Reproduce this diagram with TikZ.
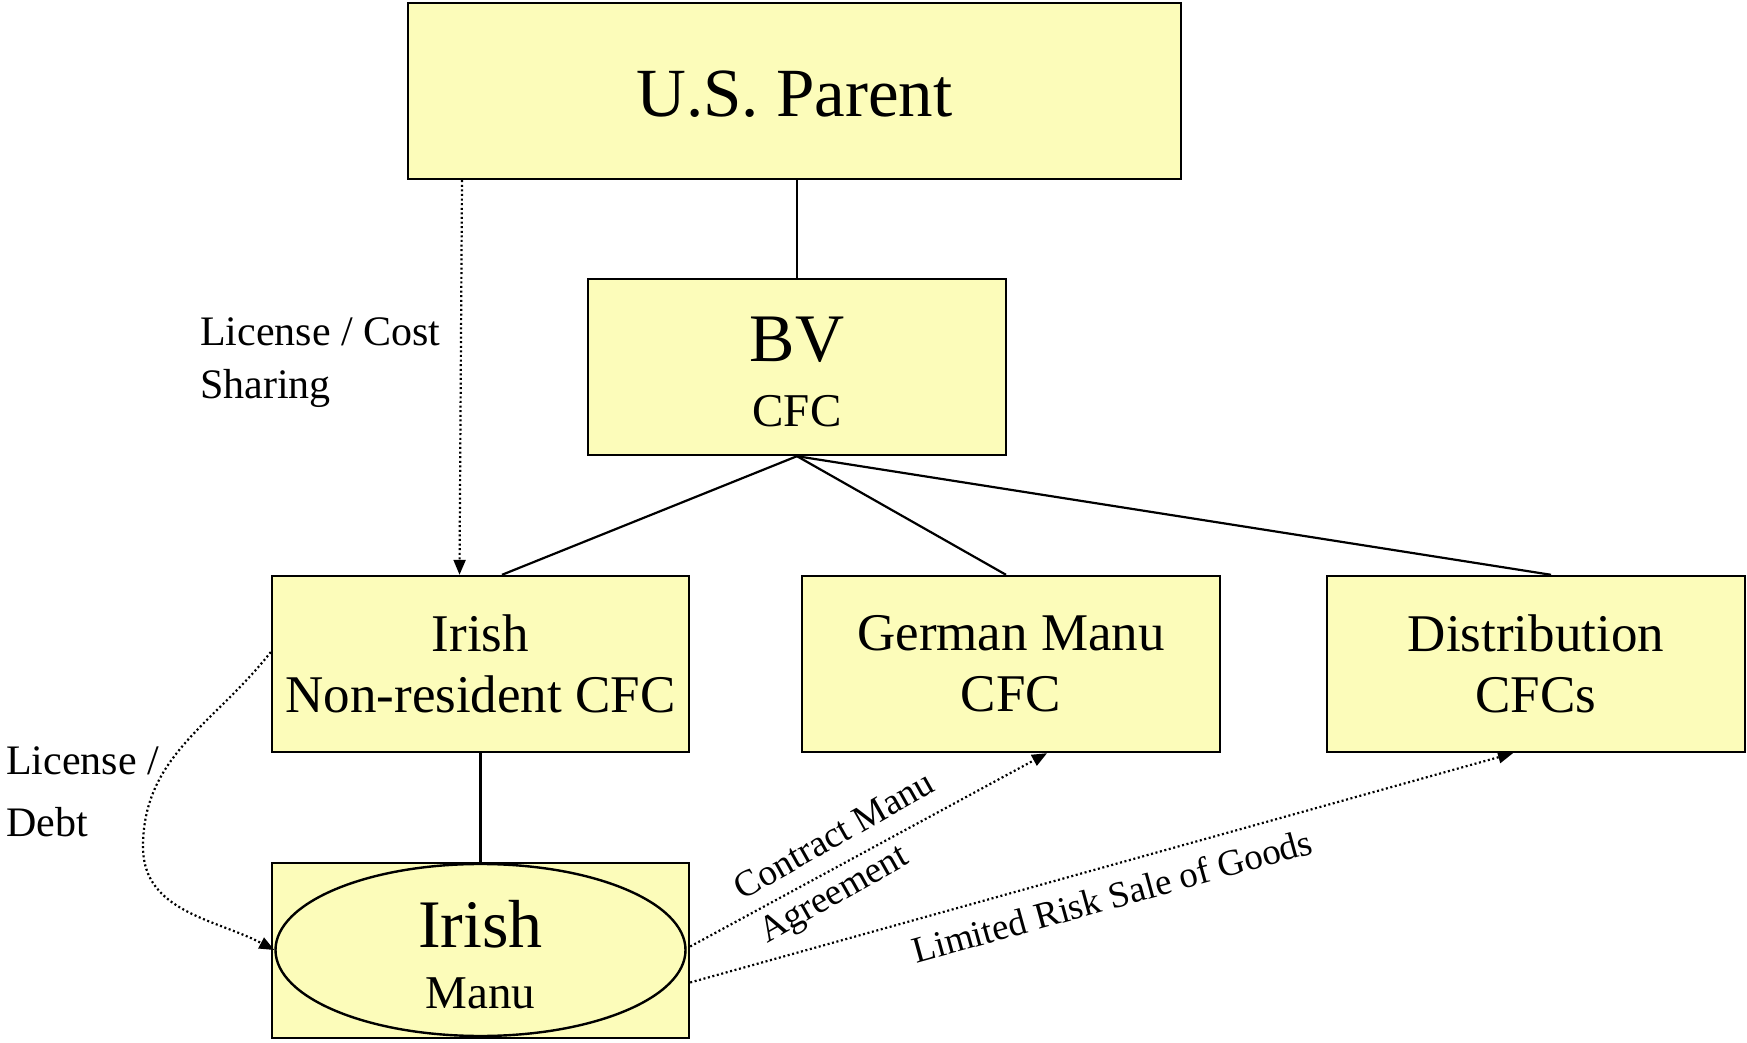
\documentclass[tikz,border=0pt]{standalone}
\usepackage{fontspec}
\setmainfont{Liberation Serif}
\usetikzlibrary{arrows.meta,shapes.geometric}
\definecolor{cfcyellow}{RGB}{252,252,186}

\begin{document}
\begin{tikzpicture}[x=1pt, y=1pt,
    entity/.style={draw, line width=2.4pt, fill=cfcyellow, align=center, inner sep=0pt},
    link/.style={line width=2.2pt},
    flow/.style={line width=2.2pt, dash pattern=on 2pt off 2.6pt, -{Triangle[length=15pt, width=12pt]}},
    note/.style={inner sep=0pt, align=left}]
    \useasboundingbox (0,0) rectangle (1747,1042);

    \node[entity, minimum width=773pt, minimum height=176pt, font=\fontsize{69}{80}\selectfont] (US) at (794.5,951) {\rule{0pt}{52pt}U.S. Parent};
    \node[entity, minimum width=418pt, minimum height=176pt, font=\fontsize{47}{65}\selectfont] (BV) at (797,675) {{\fontsize{68}{65}\selectfont\rule{0pt}{54pt}BV}\\CFC};

    \node[entity, minimum width=417pt, minimum height=176pt, font=\fontsize{53}{61}\selectfont] (IrishNR) at (480.5,378) {Irish\\Non-resident CFC};
    \node[entity, minimum width=418pt, minimum height=176pt, font=\fontsize{53}{61}\selectfont] (German) at (1011,378) {German Manu\\CFC};
    \node[entity, minimum width=418pt, minimum height=176pt, font=\fontsize{53}{61}\selectfont] (Dist) at (1536,378) {Distribution\\CFCs};

    \node[entity, minimum width=417pt, minimum height=175pt] (ManuBox) at (480.5,91.5) {};
    \node[entity, ellipse, minimum width=410pt, minimum height=172pt, font=\fontsize{47}{61}\selectfont] (Manu) at (480.5,92) {{\fontsize{68}{61}\selectfont\rule{0pt}{56pt}Irish}\\Manu};

    % ownership
    \draw[link] (BV.north) -- (BV.north |- US.south);
    \draw[link] (BV.south) -- ([xshift=21.5pt]IrishNR.north);
    \draw[link] (BV.south) -- ([xshift=-5pt]German.north);
    \draw[link] (BV.south) -- ([xshift=15pt]Dist.north);
    \draw[link] (IrishNR.south) -- (ManuBox.north);

    % agreements
    \node[note, anchor=west, font=\fontsize{42}{53}\selectfont] (LicCost) at (200,679) {License / Cost\\Sharing};
    \draw[flow] ([xshift=-332.5pt]US.south) -- ([xshift=-21pt]IrishNR.north);

    \node[note, anchor=west, font=\fontsize{42}{62}\selectfont] (LicDebt) at (6,250.5) {License /\\Debt};
    \coordinate (bend) at (143,195);
    \draw[flow] ([yshift=12pt]IrishNR.west) to[out=232, in=90] (bend) to[out=270, in=152] (Manu.west);

    \draw[flow] ([yshift=4pt]ManuBox.east) -- ([xshift=36pt]German.south);
    \node[note, rotate=29.5, font=\fontsize{37}{50}\selectfont] (Contract) at (848,182) {Contract Manu\\Agreement};

    \draw[flow] ([yshift=-32pt]ManuBox.east) -- ([xshift=-23pt]Dist.south);
    \node[note, rotate=15.5, font=\fontsize{37}{42}\selectfont] (Sale) at (1112,146) {Limited Risk Sale of Goods};
\end{tikzpicture}
\end{document}
